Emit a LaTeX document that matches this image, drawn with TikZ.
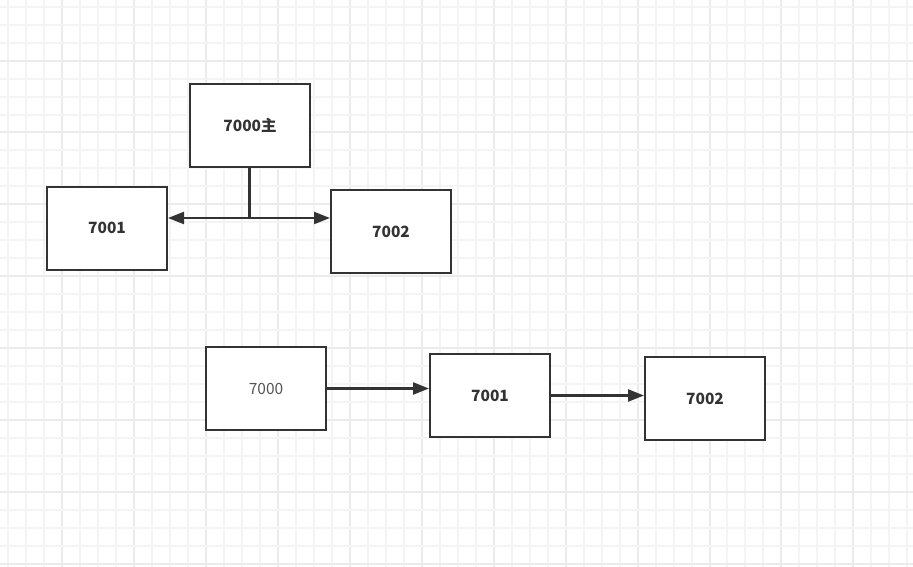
\documentclass[tikz,border=0pt]{standalone}
\usepackage{fontspec}
\setmainfont{Noto Sans CJK SC}
\usetikzlibrary{arrows.meta}
\definecolor{ink}{HTML}{333333}
\definecolor{gridminor}{HTML}{F4F4F4}
\definecolor{gridmajor}{HTML}{EBEBEB}
\definecolor{lighttext}{HTML}{555555}
\tikzset{
  box/.style={draw=ink, line width=2pt, fill=white, minimum width=120pt, minimum height=83pt, inner sep=0pt, font=\fontsize{15.5}{18}\selectfont\bfseries, text=ink},
  conn/.style={draw=ink, line width=2.2pt},
  arr/.style={conn, -{Triangle[length=16pt,width=12pt]}}
}
\begin{document}
\begin{tikzpicture}[x=1pt,y=-1pt]
\fill[white] (0,0) rectangle (913,567);
\useasboundingbox (0,0) rectangle (913,567);
\foreach \i in {0,...,50} {
  \pgfmathtruncatemacro{\xx}{round(8.3+17.98*\i)}
  \pgfmathtruncatemacro{\m}{mod(\i+1,4)}
  \ifnum\m=0
    \draw[gridmajor, line width=2pt] (\xx,0) -- (\xx,567);
  \else
    \draw[gridminor, line width=2pt] (\xx,0) -- (\xx,567);
  \fi
}
\foreach \i in {0,...,31} {
  \pgfmathtruncatemacro{\yy}{round(6.7+17.97*\i)}
  \pgfmathtruncatemacro{\m}{mod(\i+1,4)}
  \ifnum\m=0
    \draw[gridmajor, line width=2pt] (0,\yy) -- (913,\yy);
  \else
    \draw[gridminor, line width=2pt] (0,\yy) -- (913,\yy);
  \fi
}
% top group
\node[box] (t0) at (250,125.5) {7000主};
\node[box] (t1) at (107,228) {7001};
\node[box] (t2) at (391,231.5) {7002};
\coordinate (j) at (249.5,218);
\draw[conn] (t0.south -| j) -- (j);
\draw[arr] (j) -- (t1.east |- j);
\draw[arr] (j) -- (t2.west |- j);
% bottom chain
\node[box, font=\fontsize{15.5}{18}\selectfont, text=lighttext] (b0) at (266,388.5) {7000};
\node[box] (b1) at (490,395.5) {7001};
\node[box] (b2) at (705,398.5) {7002};
\draw[arr] (b0.east) -- (b1.west |- b0.east);
\draw[arr] (b1.east) -- (b2.west |- b1.east);
\end{tikzpicture}
\end{document}
